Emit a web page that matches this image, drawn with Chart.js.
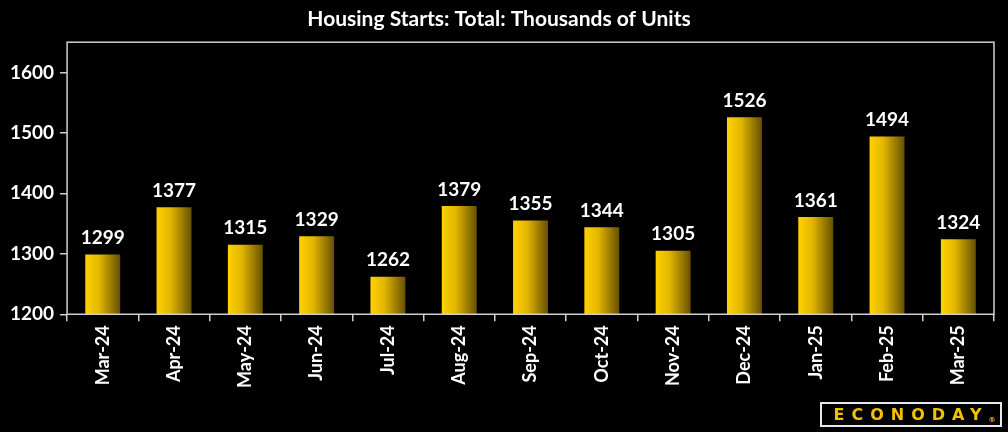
<!DOCTYPE html>
<html>
<head>
<meta charset="utf-8">
<script src="https://cdn.jsdelivr.net/npm/chart.js@4"></script>
<style>
  html, body { margin: 0; padding: 0; background: #000; }
  #wrap { position: relative; width: 1008px; height: 432px; }
  #logo {
    position: absolute; left: 820px; top: 402px; width: 182px; height: 25px;
    border: 2px solid #e8e8e8; box-sizing: border-box;
    color: #f2c200; font: bold 16px "DejaVu Sans", sans-serif;
    letter-spacing: 7px; text-align: center; line-height: 21px; padding-left: 7px;
  }
  #logo sup { font-size: 7px; letter-spacing: 0; vertical-align: -2px; }
</style>
</head>
<body>
<div id="wrap">
  <canvas id="chart" width="1008" height="432"></canvas>
  <div id="logo">ECONODAY<sup>®</sup></div>
</div>
<script>
const months = ['Mar-24', 'Apr-24', 'May-24', 'Jun-24', 'Jul-24', 'Aug-24', 'Sep-24',
                'Oct-24', 'Nov-24', 'Dec-24', 'Jan-25', 'Feb-25', 'Mar-25'];
const starts = [1299, 1377, 1315, 1329, 1262, 1379, 1355, 1344, 1305, 1526, 1361, 1494, 1324];
const yTicks = [1200, 1300, 1400, 1500, 1600];

const fontName = 'Lato, sans-serif';
const barPct = 0.49;

// frame round the plot area
const frame = {
  id: 'frame',
  afterDraw(chart) {
    const { ctx, chartArea: a } = chart;
    ctx.save();
    ctx.strokeStyle = '#d0d0d0';
    ctx.lineWidth = 1.5;
    ctx.strokeRect(a.left, a.top, a.right - a.left, a.bottom - a.top);
    ctx.restore();
  }
};

// value above each bar
const barValues = {
  id: 'barValues',
  afterDatasetsDraw(chart) {
    const { ctx } = chart;
    const meta = chart.getDatasetMeta(0);
    ctx.save();
    ctx.fillStyle = '#fff';
    ctx.font = 'bold 19px ' + fontName;
    ctx.textAlign = 'center';
    ctx.textBaseline = 'bottom';
    meta.data.forEach((bar, i) => {
      ctx.fillText(starts[i], bar.x, bar.y - 7);
    });
    ctx.restore();
  }
};

// horizontal gold gradient, one per bar
function barFill(context) {
  const chart = context.chart;
  const xs = chart.scales.x;
  const area = chart.chartArea;
  if (!xs || !area || context.dataIndex === undefined) return '#f2c200';
  const w = (area.right - area.left) / months.length * barPct;
  const cx = xs.getPixelForValue(context.dataIndex);
  const g = chart.ctx.createLinearGradient(cx - w / 2, 0, cx + w / 2, 0);
  g.addColorStop(0, '#ffd200');
  g.addColorStop(0.4, '#e2b600');
  g.addColorStop(1, '#665000');
  return g;
}

new Chart(document.getElementById('chart'), {
  type: 'bar',
  data: {
    labels: months,
    datasets: [{
      data: starts,
      backgroundColor: barFill,
      borderWidth: 0,
      barPercentage: barPct,
      categoryPercentage: 1
    }]
  },
  options: {
    responsive: false,
    animation: false,
    layout: { padding: { left: 4, right: 14, top: 0, bottom: 40 } },
    plugins: {
      legend: { display: false },
      tooltip: { enabled: false },
      title: {
        display: true,
        text: 'Housing Starts: Total: Thousands of Units',
        color: '#fff',
        font: { family: fontName, size: 21, weight: 'bold' },
        padding: { top: 7, bottom: 10 }
      }
    },
    scales: {
      x: {
        offset: true,
        grid: { display: true, offset: true, drawOnChartArea: false, drawTicks: true, tickLength: 7, color: '#d0d0d0', lineWidth: 1.5 },
        border: { display: false },
        ticks: {
          color: '#fff', font: { family: fontName, size: 18, weight: 'bold' },
          minRotation: 90, maxRotation: 90, padding: 4, autoSkip: false
        }
      },
      y: {
        min: 1200,
        max: 1650,
        afterBuildTicks(axis) { axis.ticks = yTicks.map(v => ({ value: v })); },
        grid: { display: true, drawOnChartArea: false, drawTicks: true, tickLength: 7, color: '#d0d0d0', lineWidth: 1.5 },
        border: { display: false },
        ticks: {
          color: '#fff', font: { family: fontName, size: 19, weight: 'bold' }, padding: 6,
          callback: v => String(v)
        }
      }
    }
  },
  plugins: [frame, barValues]
});
</script>
</body>
</html>
